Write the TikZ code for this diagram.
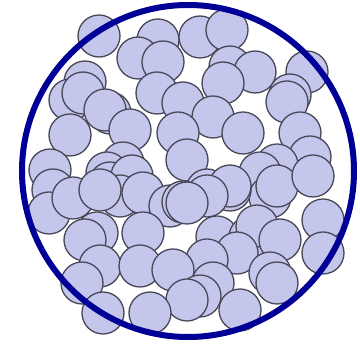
\documentclass[tikz,border=0pt]{standalone}
\definecolor{ballfill}{RGB}{196,198,236}
\definecolor{balledge}{RGB}{72,72,88}
\definecolor{ringblue}{RGB}{0,0,150}
\begin{document}
\begin{tikzpicture}[x=0.5pt,y=-0.5pt,
  ball/.style={fill=ballfill,draw=balledge,line width=0.65pt},
  ring/.style={draw=ringblue,line width=3pt}]
\useasboundingbox[fill=white] (0,0) rectangle (360,347);
\foreach \px/\py in {
 99/36, 158/40, 138/58, 163/62, 200/37, 227/30, 230/67, 255/72, 223/83,
 307/72, 290/95, 287/102, 85/82, 70/100, 83/93, 110/113, 105/110,
 157/93, 183/103, 213/117, 243/133, 300/133, 310/157, 277/165,
 130/130, 178/133, 70/135, 50/170, 123/163, 107/173, 187/160,
 260/173, 270/197, 53/190, 49/213, 73/198, 110/183, 132/176,
 120/196, 100/190, 143/193, 170/206, 207/190, 230/190, 230/186,
 277/186, 313/176, 207/196, 183/202, 187/203,
 97/233, 85/240, 143/233, 217/237, 250/237, 257/226, 280/240,
 323/220, 323/253, 237/253, 207/260, 100/266, 140/266, 173/270,
 270/273, 82/283, 213/283, 277/283, 200/296, 187/300, 240/310,
 103/313, 150/313}
  \draw[ball] (\px,\py) circle (21);
\draw[ring] (188,171) circle (166);
\end{tikzpicture}
\end{document}
